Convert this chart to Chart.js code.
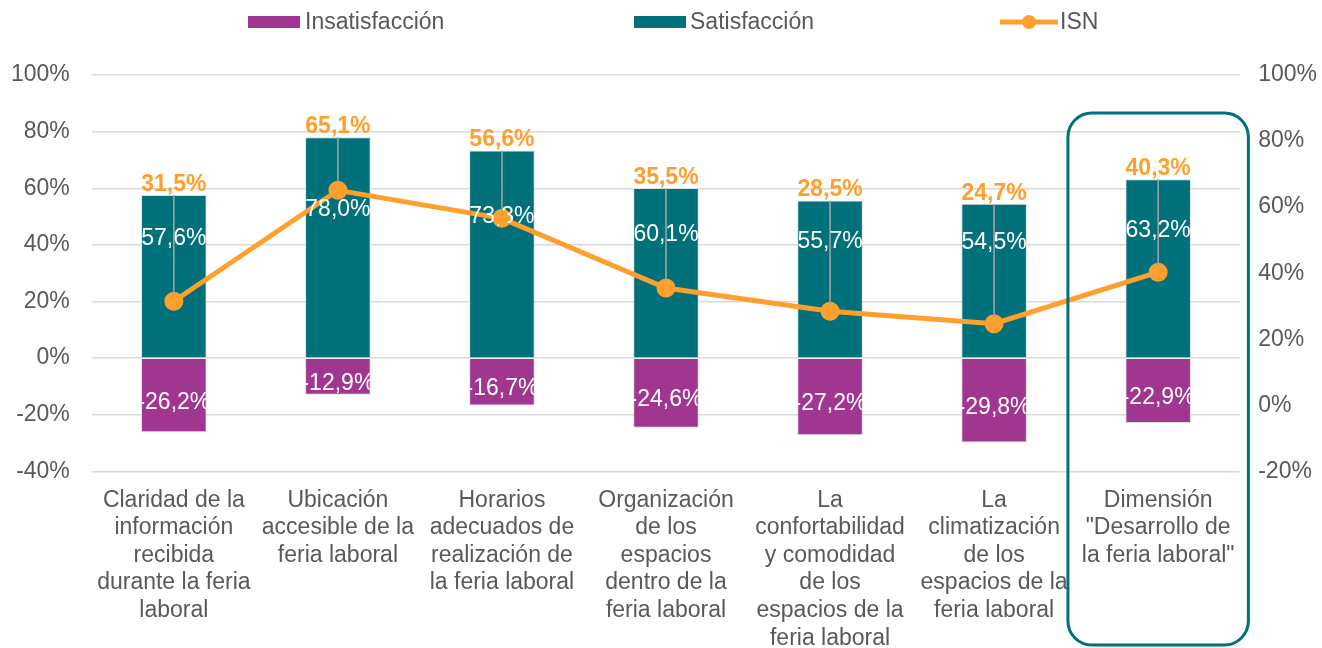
<!DOCTYPE html>
<html>
<head>
<meta charset="utf-8">
<script src="https://cdn.jsdelivr.net/npm/chart.js@4/dist/chart.umd.min.js"></script>
<style>
  body { margin: 0; background: #fff; }
  #wrap { width: 1322px; height: 648px; }
</style>
</head>
<body>
<div id="wrap"><canvas id="chart"></canvas></div>
<script>
const categories = [
  ['Claridad de la', 'información', 'recibida', 'durante la feria', 'laboral'],
  ['Ubicación', 'accesible de la', 'feria laboral'],
  ['Horarios', 'adecuados de', 'realización de', 'la feria laboral'],
  ['Organización', 'de los', 'espacios', 'dentro de la', 'feria laboral'],
  ['La', 'confortabilidad', 'y comodidad', 'de los', 'espacios de la', 'feria laboral'],
  ['La', 'climatización', 'de los', 'espacios de la', 'feria laboral'],
  ['Dimensión', '"Desarrollo de', 'la feria laboral"']
]
const insatisfaccion = [-26.2, -12.9, -16.7, -24.6, -27.2, -29.8, -22.9]
const satisfaccion = [57.6, 78.0, 73.3, 60.1, 55.7, 54.5, 63.2]
const isn = [31.5, 65.1, 56.6, 35.5, 28.5, 24.7, 40.3]

const leftTicks = { min: -40, max: 100, step: 20 }
const rightTicks = { min: -20, max: 100, step: 20 }

const PURPLE = '#a03690'
const TEAL = '#00707a'
const ORANGE = '#ffa02e'
const GREY_TXT = '#595959'
const FONT = "'Liberation Sans', Arial, sans-serif"

const fmt = v => v.toFixed(1).replace('.', ',') + '%'

// value labels, ISN leader lines, legend and highlight box
const extras = {
  id: 'extras',
  afterDatasetsDraw(chart) {
    const ctx = chart.ctx
    const yL = chart.scales.y
    const insMeta = chart.getDatasetMeta(0)
    const satMeta = chart.getDatasetMeta(1)
    ctx.save()
    ctx.textAlign = 'center'
    ctx.textBaseline = 'middle'
    ctx.font = '23px ' + FONT
    ctx.fillStyle = '#fff'
    satMeta.data.forEach((bar, i) => {
      const mid = (yL.getPixelForValue(0) + yL.getPixelForValue(satisfaccion[i])) / 2
      ctx.fillText(fmt(satisfaccion[i]), bar.x, mid - 38)
    })
    insMeta.data.forEach((bar, i) => {
      const mid = (yL.getPixelForValue(0) + yL.getPixelForValue(insatisfaccion[i])) / 2
      ctx.fillText(fmt(insatisfaccion[i]), bar.x, mid + 7)
    })
    ctx.restore()
  },
  afterDraw(chart) {
    const ctx = chart.ctx
    const yL = chart.scales.y
    const x = chart.scales.x
    const isnMeta = chart.getDatasetMeta(2)
    ctx.save()
    isnMeta.data.forEach((pt, i) => {
      const top = yL.getPixelForValue(satisfaccion[i])
      ctx.strokeStyle = '#a6a6a6'
      ctx.lineWidth = 1.5
      ctx.beginPath()
      ctx.moveTo(pt.x, top)
      ctx.lineTo(pt.x, pt.y)
      ctx.stroke()
      ctx.font = 'bold 23px ' + FONT
      ctx.fillStyle = ORANGE
      ctx.textAlign = 'center'
      ctx.textBaseline = 'bottom'
      ctx.fillText(fmt(isn[i]), pt.x, top + 1)
    })
    isnMeta.data.forEach(pt => {
      ctx.fillStyle = ORANGE
      ctx.beginPath()
      ctx.arc(pt.x, pt.y, 7, 0, Math.PI * 2)
      ctx.fill()
    })

    // highlight box around the last category
    const cx = x.getPixelForValue(categories.length - 1)
    const half = (x.getPixelForValue(1) - x.getPixelForValue(0)) * 0.55
    ctx.strokeStyle = TEAL
    ctx.lineWidth = 3
    ctx.beginPath()
    ctx.roundRect(cx - half, 113, half * 2, 532, 24)
    ctx.stroke()

    // legend
    ctx.font = '23px ' + FONT
    ctx.textAlign = 'left'
    ctx.textBaseline = 'middle'
    const ly = 22
    ctx.fillStyle = PURPLE
    ctx.fillRect(248, ly - 6, 52, 12)
    ctx.fillStyle = GREY_TXT
    ctx.fillText('Insatisfacción', 305, ly + 1)
    ctx.fillStyle = TEAL
    ctx.fillRect(634, ly - 6, 52, 12)
    ctx.fillStyle = GREY_TXT
    ctx.fillText('Satisfacción', 690, ly + 1)
    ctx.strokeStyle = ORANGE
    ctx.lineWidth = 5
    ctx.beginPath()
    ctx.moveTo(1000, ly)
    ctx.lineTo(1058, ly)
    ctx.stroke()
    ctx.fillStyle = ORANGE
    ctx.beginPath()
    ctx.arc(1029, ly, 7, 0, Math.PI * 2)
    ctx.fill()
    ctx.fillStyle = GREY_TXT
    ctx.fillText('ISN', 1060, ly + 1)
    ctx.restore()
  }
}

new Chart(document.getElementById('chart'), {
  type: 'bar',
  data: {
    labels: categories,
    datasets: [
      {
        label: 'Insatisfacción',
        data: insatisfaccion,
        backgroundColor: PURPLE,
        borderColor: '#e0e0e0',
        borderWidth: 1,
        barPercentage: 0.8,
        categoryPercentage: 0.5,
        yAxisID: 'y',
        order: 2
      },
      {
        label: 'Satisfacción',
        data: satisfaccion,
        backgroundColor: TEAL,
        borderColor: '#e0e0e0',
        borderWidth: 1,
        barPercentage: 0.8,
        categoryPercentage: 0.5,
        yAxisID: 'y',
        order: 2
      },
      {
        type: 'line',
        label: 'ISN',
        data: isn,
        borderColor: ORANGE,
        backgroundColor: ORANGE,
        borderWidth: 5,
        pointRadius: 7,
        pointHoverRadius: 7,
        yAxisID: 'y1',
        order: 1
      }
    ]
  },
  options: {
    responsive: true,
    maintainAspectRatio: false,
    animation: false,
    layout: { padding: { top: 75, left: -11, right: -13, bottom: -19 } },
    plugins: {
      legend: { display: false },
      tooltip: { enabled: false }
    },
    scales: {
      x: {
        stacked: true,
        grid: { display: false, drawTicks: false },
        border: { display: false },
        ticks: {
          color: GREY_TXT,
          font: { size: 23, family: FONT, lineHeight: 1.2 },
          autoSkip: false,
          maxRotation: 0,
          padding: 15
        }
      },
      y: {
        stacked: true,
        position: 'left',
        min: leftTicks.min,
        max: leftTicks.max,
        grid: { color: '#d9d9d9', lineWidth: 1.5, drawTicks: false },
        border: { display: false },
        ticks: {
          stepSize: leftTicks.step,
          color: GREY_TXT,
          font: { size: 23, family: FONT },
          padding: 22,
          callback: v => v + '%'
        }
      },
      y1: {
        position: 'right',
        min: rightTicks.min,
        max: rightTicks.max,
        grid: { display: false, drawTicks: false },
        border: { display: false },
        ticks: {
          stepSize: rightTicks.step,
          color: GREY_TXT,
          font: { size: 23, family: FONT },
          padding: 18,
          callback: v => v + '%'
        }
      }
    }
  },
  plugins: [extras]
})
</script>
</body>
</html>
